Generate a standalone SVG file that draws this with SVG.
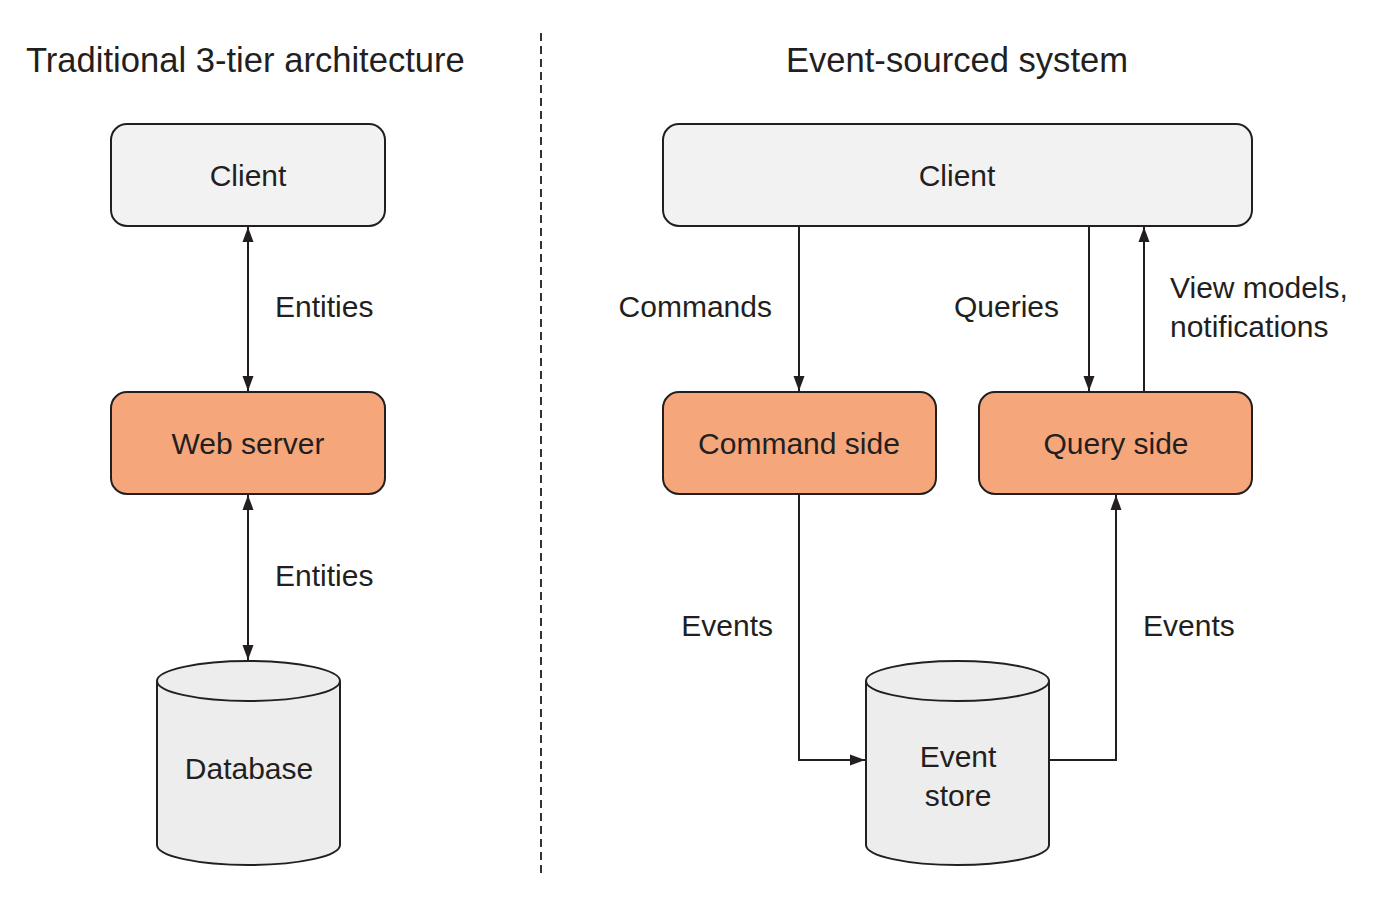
<svg xmlns="http://www.w3.org/2000/svg" width="1381" height="900" viewBox="0 0 1381 900">
<style>
text{font-family:"Liberation Sans",Arial,sans-serif;fill:#231f20;font-size:30px}
.title{font-size:34.6px}
.mid{text-anchor:middle}
.end{text-anchor:end}
.box{stroke:#231f20;stroke-width:2}
.client{fill:#f2f2f2}
.orange{fill:#f5a77b}
.cyl{fill:#ededed;stroke:#231f20;stroke-width:2}
.conn{fill:none;stroke:#231f20;stroke-width:2}
</style>
<defs>
<marker id="ah" markerUnits="userSpaceOnUse" markerWidth="16" markerHeight="12" refX="15" refY="6" orient="auto-start-reverse" viewBox="0 0 16 12">
<path d="M0,0.5 L15,6 L0,11.5 Z" fill="#231f20"/>
</marker>
</defs>
<rect width="1381" height="900" fill="#fff"/>
<line x1="541" y1="33" x2="541" y2="873" stroke="#333" stroke-width="2" stroke-dasharray="8,5"/>
<text class="title" x="26" y="72">Traditional 3-tier architecture</text>
<text class="title mid" x="957" y="72">Event-sourced system</text>

<g id="client-left"><rect class="box client" x="111" y="124" width="274" height="102" rx="16"/><text class="mid" x="248" y="186">Client</text></g>
<g id="web-server"><rect class="box orange" x="111" y="392" width="274" height="102" rx="16"/><text class="mid" x="248" y="454">Web server</text></g>
<g id="database"><path class="cyl" d="M157,681 A91.5,20 0 0 1 340,681 L340,845 A91.5,20 0 0 1 157,845 Z"/><path class="conn" d="M157,681 A91.5,20 0 0 0 340,681"/><text class="mid" x="249" y="779">Database</text></g>

<g id="client-right"><rect class="box client" x="663" y="124" width="589" height="102" rx="16"/><text class="mid" x="957" y="186">Client</text></g>
<g id="command-side"><rect class="box orange" x="663" y="392" width="273" height="102" rx="16"/><text class="mid" x="799" y="454">Command side</text></g>
<g id="query-side"><rect class="box orange" x="979" y="392" width="273" height="102" rx="16"/><text class="mid" x="1116" y="454">Query side</text></g>
<g id="event-store"><path class="cyl" d="M866,681 A91.5,20 0 0 1 1049,681 L1049,845 A91.5,20 0 0 1 866,845 Z"/><path class="conn" d="M866,681 A91.5,20 0 0 0 1049,681"/><text class="mid" x="958" y="767">Event</text><text class="mid" x="958" y="806">store</text></g>

<g id="connectors">
<line class="conn" x1="248" y1="227" x2="248" y2="391" marker-start="url(#ah)" marker-end="url(#ah)"/>
<line class="conn" x1="248" y1="495" x2="248" y2="660" marker-start="url(#ah)" marker-end="url(#ah)"/>
<line class="conn" x1="799" y1="226" x2="799" y2="391" marker-end="url(#ah)"/>
<line class="conn" x1="1089" y1="226" x2="1089" y2="391" marker-end="url(#ah)"/>
<line class="conn" x1="1144" y1="392" x2="1144" y2="227" marker-end="url(#ah)"/>
<polyline class="conn" points="799,494 799,760 865,760" marker-end="url(#ah)"/>
<polyline class="conn" points="1049,760 1116,760 1116,495" marker-end="url(#ah)"/>
</g>
<g id="labels">
<text x="275" y="317">Entities</text>
<text x="275" y="586">Entities</text>
<text class="end" x="772" y="317">Commands</text>
<text class="end" x="1059" y="317">Queries</text>
<text x="1170" y="298">View models,</text>
<text x="1170" y="337">notifications</text>
<text class="end" x="773" y="636">Events</text>
<text x="1143" y="636">Events</text>
</g>
</svg>
